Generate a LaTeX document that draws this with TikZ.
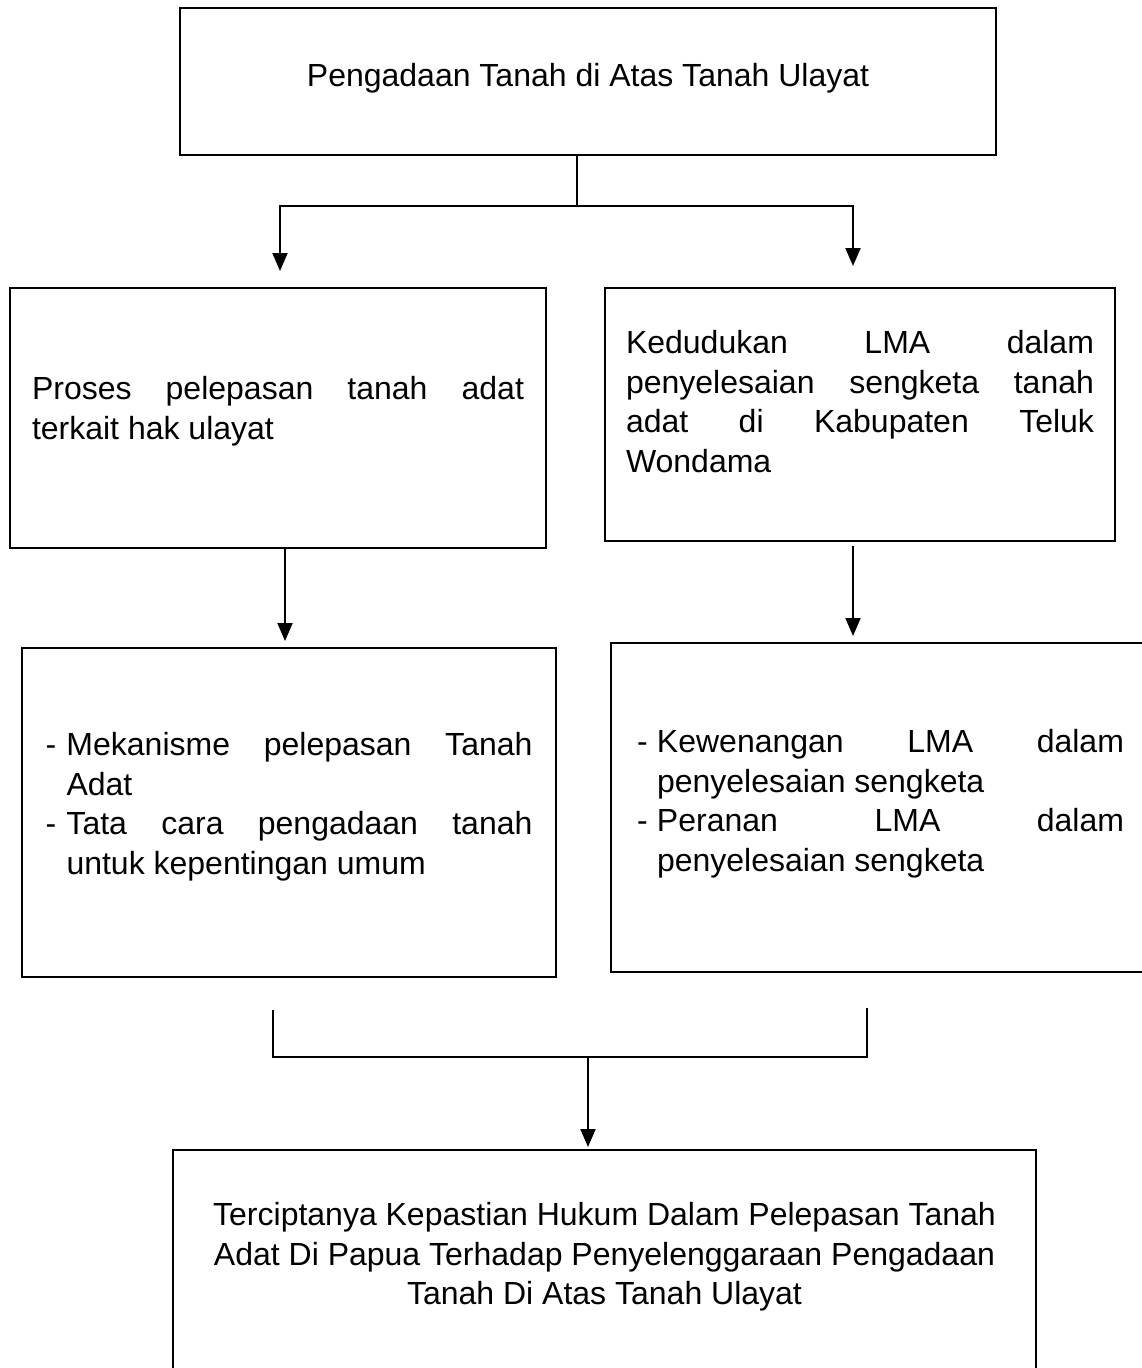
\documentclass[tikz,border=0pt]{standalone}
\usepackage{fontspec}
\setmainfont{Liberation Sans}
\usetikzlibrary{arrows.meta}
\hyphenpenalty=10000
\exhyphenpenalty=10000
\tolerance=10000
\hbadness=10000

\begin{document}
\begin{tikzpicture}[
    x=1pt, y=-1pt,
    box/.style={draw, line width=2pt, inner sep=0pt, align=justify, text depth=#1,
                font=\fontsize{32}{39.5}\selectfont},
    titlebox/.style={box=#1, align=center},
    line/.style={line width=2pt},
    arr/.style={line width=2pt, -{Triangle[length=18pt,width=15pt]}}
  ]
    \useasboundingbox (0,0) rectangle (1142,1368);
    \clip (0,0) rectangle (1142,1368);

    \node[titlebox=14pt, minimum width=816pt, minimum height=147pt] (top) at (588,81.5)
      {Pengadaan Tanah di Atas Tanah Ulayat};

    \node[box=60pt, minimum width=536pt, minimum height=260pt, text width=492pt] (proses) at (278,418)
      {Proses pelepasan tanah adat\linebreak terkait hak ulayat};
    \node[box=145pt, minimum width=510pt, minimum height=253pt, text width=468pt] (kedudukan) at (860,414.5)
      {Kedudukan LMA dalam\linebreak penyelesaian sengketa tanah\linebreak
       adat di Kabupaten Teluk\linebreak Wondama};

    \node[box=137pt, minimum width=534pt, minimum height=329pt, text width=487pt] (mekanisme) at (289,812.5)
      {\noindent\hangindent=21pt\hangafter=1\makebox[21pt][l]{-}Mekanisme pelepasan Tanah\linebreak Adat\par
       \noindent\hangindent=21pt\hangafter=1\makebox[21pt][l]{-}Tata cara pengadaan tanah\linebreak
       untuk kepentingan umum\par};
    \node[box=133pt, minimum width=539pt, minimum height=329pt, text width=487pt] (kewenangan) at (880.5,807.5)
      {\noindent\hangindent=20pt\hangafter=1\makebox[20pt][l]{-}Kewenangan LMA dalam\linebreak
       penyelesaian sengketa\par
       \noindent\hangindent=20pt\hangafter=1\makebox[20pt][l]{-}Peranan LMA dalam\linebreak
       penyelesaian sengketa\par};

    \node[titlebox=23pt, minimum width=863pt, minimum height=230pt] (hasil) at (604.5,1265)
      {Terciptanya Kepastian Hukum Dalam Pelepasan Tanah\\
       Adat Di Papua Terhadap Penyelenggaraan Pengadaan\\
       Tanah Di Atas Tanah Ulayat};

    % Top split
    \coordinate (fork) at (577,206);
    \coordinate (la) at (280,271);
    \coordinate (ra) at (853,266);
    \draw[line] (top.south -| fork) -- (fork);
    \draw[arr] (fork) -| (la);
    \draw[arr] (fork) -| (ra);

    \draw[arr, shorten >=6pt] (proses.south -| 285,0) -- (mekanisme.north -| 285,0);
    \draw[arr, shorten <=4pt, shorten >=6pt] (kedudukan.south -| 853,0) -- (kewenangan.north -| 853,0);

    % Join
    \coordinate (jl) at (273,1010);
    \coordinate (jr) at (867,1008);
    \coordinate (merge) at (588,1057);
    \draw[line] (jl) |- (merge) -| (jr);
    \draw[arr, shorten >=2pt] (merge) -- (hasil.north -| merge);
  \end{tikzpicture}
\end{document}
